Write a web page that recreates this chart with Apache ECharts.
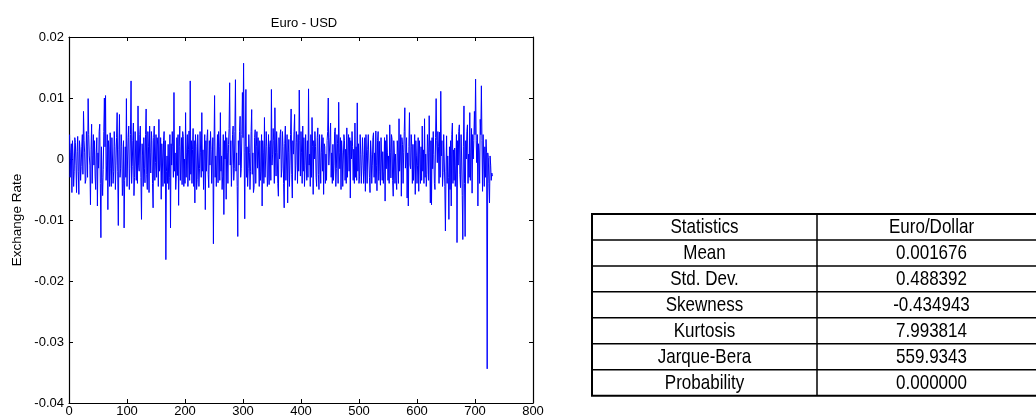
<!DOCTYPE html>
<html>
<head>
<meta charset="utf-8">
<script src="https://cdn.jsdelivr.net/npm/echarts@6/dist/echarts.min.js"></script>
<style>
html,body{margin:0;padding:0;background:#fff;}
#chart{width:1036px;height:419px;}
</style>
</head>
<body>
<div id="chart"></div>
<script>
// ---- data ----
const chartTitle = 'Euro - USD';
const yAxisName = 'Exchange Rate';
const xTickValues = [0, 100, 200, 300, 400, 500, 600, 700, 800];
const yTickValues = [-0.04, -0.03, -0.02, -0.01, 0, 0.01, 0.02];
const returns = [
 0.0040,-0.0030, 0.0010, 0.0025,-0.0055, 0.0030, 0.0005,-0.0045,-0.0020, 0.0035, 0.0027,-0.0010,-0.0055, 0.0012, 0.0037,-0.0020,-0.0058, 0.0030, 0.0015,-0.0035,
-0.0012, 0.0020, 0.0040,-0.0025, 0.0078, 0.0030, 0.0010,-0.0040,-0.0034, 0.0045, 0.0021,-0.0030, 0.0099, 0.0040, 0.0005,-0.0010,-0.0075, 0.0015, 0.0057,-0.0040,
 0.0005, 0.0040,-0.0010, 0.0030,-0.0028,-0.0050, 0.0010, 0.0035,-0.0077, 0.0010,-0.0015, 0.0045, 0.0057,-0.0040,-0.0129, 0.0020,-0.0030,-0.0060,-0.0017, 0.0045,
 0.0100, 0.0020, 0.0104,-0.0035,-0.0010, 0.0040,-0.0083, 0.0030, 0.0016,-0.0045, 0.0043,-0.0015,-0.0045, 0.0035, 0.0000,-0.0040,-0.0020, 0.0045, 0.0021,-0.0050,
-0.0010, 0.0035, 0.0076,-0.0020,-0.0109, 0.0015, 0.0073,-0.0030,-0.0015, 0.0040, 0.0021,-0.0060,-0.0040, 0.0030,-0.0113,-0.0035, 0.0020,-0.0030, 0.0099,-0.0045,
 0.0000, 0.0035, 0.0054,-0.0050,-0.0015, 0.0040, 0.0128,-0.0040,-0.0012, 0.0030, 0.0059,-0.0060,-0.0030, 0.0045, 0.0000,-0.0035, 0.0030,-0.0040, 0.0087,-0.0010,
-0.0020, 0.0040, 0.0054,-0.0030,-0.0099, 0.0025, 0.0005,-0.0045, 0.0035,-0.0015,-0.0039, 0.0040, 0.0082,-0.0025,-0.0050, 0.0045, 0.0020,-0.0055, 0.0054, 0.0010,
-0.0023, 0.0045, 0.0030,-0.0040,-0.0080, 0.0035, 0.0054,-0.0035,-0.0006, 0.0040,-0.0030, 0.0035, 0.0023,-0.0045, 0.0065,-0.0020,-0.0010, 0.0035,-0.0066, 0.0025,
 0.0000,-0.0045, 0.0030, 0.0045,-0.0040, 0.0030,-0.0165,-0.0020, 0.0005,-0.0040, 0.0024,-0.0050,-0.0030, 0.0040,-0.0113, 0.0025,-0.0010, 0.0045, 0.0020,-0.0030,
 0.0109,-0.0020, 0.0010,-0.0050,-0.0028, 0.0035,-0.0027, 0.0040,-0.0076, 0.0020, 0.0054,-0.0035, 0.0000, 0.0035,-0.0042, 0.0045, 0.0037,-0.0045, 0.0000,-0.0040,
 0.0076,-0.0030, 0.0010, 0.0040,-0.0045, 0.0015, 0.0046,-0.0035, 0.0128,-0.0025, 0.0030,-0.0040, 0.0016, 0.0050,-0.0045, 0.0030,-0.0072, 0.0040, 0.0021,-0.0050,
-0.0034, 0.0040, 0.0000,-0.0045,-0.0016, 0.0045, 0.0010,-0.0030, 0.0076,-0.0020, 0.0015,-0.0050, 0.0000, 0.0040,-0.0083, 0.0030,-0.0020, 0.0035, 0.0048,-0.0025,
-0.0047, 0.0030,-0.0010, 0.0045, 0.0016,-0.0040, 0.0000, 0.0035,-0.0139, 0.0020, 0.0104,-0.0030, 0.0005,-0.0045, 0.0000, 0.0040,-0.0039, 0.0045, 0.0020,-0.0035,
 0.0076,-0.0020, 0.0005,-0.0050,-0.0028, 0.0040,-0.0091, 0.0030, 0.0000, 0.0045,-0.0066, 0.0035, 0.0010,-0.0040, 0.0024, 0.0050, 0.0125,-0.0010, 0.0030,-0.0045,
-0.0011, 0.0040, 0.0054,-0.0035,-0.0016, 0.0045, 0.0130,-0.0020, 0.0010,-0.0045,-0.0127, 0.0030,-0.0010, 0.0045, 0.0070,-0.0030,-0.0016, 0.0040, 0.0109, 0.0035,
 0.0157, 0.0010,-0.0098, 0.0020, 0.0114,-0.0030, 0.0020,-0.0045,-0.0016, 0.0040, 0.0011,-0.0050,-0.0020, 0.0045, 0.0081,-0.0025, 0.0010,-0.0055,-0.0047, 0.0035,
 0.0048,-0.0040, 0.0021, 0.0045,-0.0015, 0.0035, 0.0000,-0.0045, 0.0030,-0.0035,-0.0020, 0.0040,-0.0077, 0.0030, 0.0010,-0.0040, 0.0068,-0.0030, 0.0000, 0.0045,
 0.0020,-0.0045,-0.0028, 0.0040,-0.0042, 0.0020, 0.0030,-0.0035, 0.0114,-0.0010, 0.0008, 0.0050, 0.0030,-0.0040, 0.0084, 0.0010,-0.0028, 0.0045, 0.0010,-0.0040,
-0.0061, 0.0035, 0.0000, 0.0040, 0.0048,-0.0030,-0.0016, 0.0045, 0.0020,-0.0040,-0.0080, 0.0025, 0.0054,-0.0035, 0.0000, 0.0040,-0.0072, 0.0010, 0.0032,-0.0045,
-0.0010, 0.0040, 0.0082,-0.0025,-0.0064, 0.0030, 0.0008, 0.0045, 0.0073,-0.0035,-0.0010, 0.0045, 0.0027,-0.0040, 0.0040,-0.0020, 0.0113, 0.0030,-0.0028, 0.0045,
 0.0010,-0.0040, 0.0054,-0.0020, 0.0035,-0.0045,-0.0010, 0.0040, 0.0000,-0.0035, 0.0030,-0.0030, 0.0115,-0.0010, 0.0008,-0.0045, 0.0040,-0.0030, 0.0068, 0.0020,
-0.0058, 0.0030, 0.0000, 0.0045, 0.0020,-0.0030,-0.0045, 0.0035, 0.0051,-0.0025,-0.0050, 0.0040, 0.0000,-0.0040, 0.0010, 0.0040,-0.0020, 0.0035,-0.0058, 0.0025,
 0.0020,-0.0040, 0.0008,-0.0035, 0.0030, 0.0045, 0.0100,-0.0010,-0.0013, 0.0035, 0.0059,-0.0030, 0.0010,-0.0040, 0.0024,-0.0035,-0.0010, 0.0045, 0.0051,-0.0045,
-0.0016, 0.0040, 0.0025,-0.0040, 0.0093, 0.0010,-0.0016, 0.0035,-0.0050, 0.0030, 0.0010,-0.0045, 0.0000, 0.0040, 0.0030,-0.0035, 0.0016,-0.0040, 0.0051,-0.0030,
 0.0005, 0.0040,-0.0020, 0.0035,-0.0064, 0.0030, 0.0000, 0.0045, 0.0020,-0.0035, 0.0016,-0.0040, 0.0059,-0.0030, 0.0020,-0.0035, 0.0092,-0.0020, 0.0025,-0.0040,
-0.0028, 0.0040, 0.0008,-0.0040,-0.0010, 0.0035, 0.0008,-0.0040,-0.0020, 0.0035,-0.0053, 0.0040, 0.0005,-0.0040, 0.0016, 0.0040, 0.0000,-0.0030,-0.0055, 0.0030,
 0.0008,-0.0040,-0.0010, 0.0035, 0.0043,-0.0030, 0.0010,-0.0040, 0.0046,-0.0010,-0.0052, 0.0030, 0.0045,-0.0035, 0.0029,-0.0020,-0.0043, 0.0035, 0.0000,-0.0035,
 0.0012,-0.0040,-0.0020, 0.0035,-0.0069, 0.0030,-0.0016, 0.0040, 0.0010,-0.0035, 0.0005,-0.0040, 0.0056, 0.0010,-0.0031, 0.0040, 0.0032,-0.0035,-0.0061, 0.0030,
 0.0010,-0.0040, 0.0008,-0.0035,-0.0050, 0.0030, 0.0010,-0.0040, 0.0066,-0.0020, 0.0000, 0.0040,-0.0061, 0.0035, 0.0024,-0.0040, 0.0010, 0.0045, 0.0084,-0.0015,
 0.0000, 0.0035,-0.0064, 0.0010,-0.0077, 0.0020, 0.0076,-0.0010,-0.0016, 0.0040, 0.0021,-0.0040, 0.0024,-0.0035,-0.0010, 0.0040,-0.0058, 0.0030, 0.0005,-0.0040,
-0.0010, 0.0035,-0.0053, 0.0030, 0.0008,-0.0040, 0.0020,-0.0035, 0.0054,-0.0020, 0.0015,-0.0040, 0.0066,-0.0030, 0.0008,-0.0045,-0.0025, 0.0040, 0.0020,-0.0035,
 0.0071, 0.0010,-0.0072, 0.0030,-0.0075, 0.0035,-0.0016, 0.0045, 0.0007,-0.0040,-0.0050, 0.0035, 0.0099, 0.0030,-0.0006, 0.0045, 0.0020,-0.0040, 0.0044,-0.0030,
 0.0111, 0.0005, 0.0030,-0.0045,-0.0022, 0.0040, 0.0000,-0.0045,-0.0118,-0.0020, 0.0038,-0.0040, 0.0005,-0.0030,-0.0099, 0.0020,-0.0050, 0.0030,-0.0077, 0.0040,
 0.0059,-0.0040, 0.0015,-0.0035, 0.0018,-0.0045,-0.0010, 0.0040,-0.0137, 0.0030,-0.0010, 0.0045, 0.0056,-0.0025,-0.0047, 0.0040, 0.0000,-0.0060,-0.0132, 0.0020,
 0.0087,-0.0040,-0.0127, 0.0030, 0.0000, 0.0045, 0.0056,-0.0040, 0.0008,-0.0030, 0.0076,-0.0035, 0.0010, 0.0050,-0.0056, 0.0040, 0.0000, 0.0030, 0.0078, 0.0040,
 0.0131, 0.0030,-0.0006, 0.0040,-0.0077, 0.0025, 0.0010,-0.0040, 0.0065, 0.0040, 0.0120, 0.0030,-0.0053, 0.0040, 0.0000,-0.0045, 0.0020,-0.0030, 0.0032, 0.0010,
-0.0344, 0.0010, 0.0002,-0.0040,-0.0072, 0.0005,-0.0010,-0.0035,-0.0023,-0.0028
];
// statistics table
const statHeader = ['Statistics', 'Euro/Dollar'];
const statNames  = ['Mean', 'Std. Dev.', 'Skewness', 'Kurtosis', 'Jarque-Bera', 'Probability'];
const statValues = ['0.001676', '0.488392', '-0.434943', '7.993814', '559.9343', '0.000000'];

// ---- chart ----
const chart = echarts.init(document.getElementById('chart'), null, {renderer: 'canvas'});
const seriesData = returns.map((v, i) => [i + 1, v]);

const FONT = 'Liberation Sans, Arial, sans-serif';
const TFONT = '"Liberation Sans", Arial, sans-serif';
const axisLineStyle = {color: '#000', width: 1.2};

// table graphics
const tbl = {left: 592, mid: 817, right: 1046, top: 214, rowH: 25.95};
const rows = [statHeader].concat(statNames.map((n, i) => [n, statValues[i]]));
const graphics = [];
const tblH = tbl.rowH * rows.length;
graphics.push({type: 'rect', shape: {x: tbl.left, y: tbl.top, width: tbl.right - tbl.left, height: tblH},
  style: {fill: '#fff', stroke: '#000', lineWidth: 2}});
for (let i = 1; i < rows.length; i++) {
  const y = tbl.top + tbl.rowH * i;
  graphics.push({type: 'line', shape: {x1: tbl.left, y1: y, x2: tbl.right, y2: y},
    style: {stroke: '#000', lineWidth: 1.5}});
}
graphics.push({type: 'line', shape: {x1: tbl.mid, y1: tbl.top, x2: tbl.mid, y2: tbl.top + tblH},
  style: {stroke: '#000', lineWidth: 1.5}});
rows.forEach((r, i) => {
  const cy = tbl.top + tbl.rowH * (i + 0.5) + 0.5;
  [[r[0], (tbl.left + tbl.mid) / 2], [r[1], (tbl.mid + tbl.right) / 2]].forEach(([t, cx]) => {
    graphics.push({type: 'text', x: cx, y: cy, scaleX: 0.81,
      style: {text: t, x: 0, y: 0, fill: '#000', font: '21px ' + TFONT,
        align: 'center', verticalAlign: 'middle', textAlign: 'center', textVerticalAlign: 'middle'}});
  });
});

const xCommon = {type: 'value', min: xTickValues[0], max: xTickValues[xTickValues.length - 1],
  interval: xTickValues[1] - xTickValues[0],
  axisLine: {show: true, lineStyle: axisLineStyle, onZero: false},
  axisTick: {show: true, inside: true, length: 4, lineStyle: {color: '#000', width: 1}},
  splitLine: {show: false}};
const yCommon = {type: 'value', min: yTickValues[0], max: yTickValues[yTickValues.length - 1],
  interval: 0.01,
  axisLine: {show: true, lineStyle: axisLineStyle, onZero: false},
  axisTick: {show: true, inside: true, length: 4, lineStyle: {color: '#000', width: 1}},
  splitLine: {show: false}};

chart.setOption({
  animation: false,
  backgroundColor: '#fff',
  title: {text: chartTitle, left: 299, top: 12, textAlign: 'center',
    textStyle: {fontFamily: FONT, fontSize: 13, fontWeight: 'normal', color: '#000'}},
  grid: {left: 69, right: 503, top: 37, bottom: 16, containLabel: false},
  xAxis: [
    Object.assign({}, xCommon, {position: 'bottom',
      axisLabel: {show: true, color: '#000', fontFamily: FONT, fontSize: 13, margin: 2}}),
    Object.assign({}, xCommon, {position: 'top', axisLabel: {show: false}})
  ],
  yAxis: [
    Object.assign({}, yCommon, {position: 'left', name: yAxisName, nameLocation: 'middle', nameGap: 45,
      nameRotate: 90, nameTextStyle: {fontFamily: FONT, fontSize: 13.5, color: '#000'},
      axisLabel: {show: true, color: '#000', fontFamily: FONT, fontSize: 13, margin: 5,
        formatter: v => String(+v.toFixed(2))}}),
    Object.assign({}, yCommon, {position: 'right', axisLabel: {show: false}})
  ],
  series: [{
    type: 'line', xAxisIndex: 0, yAxisIndex: 0, data: seriesData,
    showSymbol: false, symbol: 'none',
    lineStyle: {color: '#0000ff', width: 1}, silent: true
  }],
  graphic: graphics
});
</script>
</body>
</html>
